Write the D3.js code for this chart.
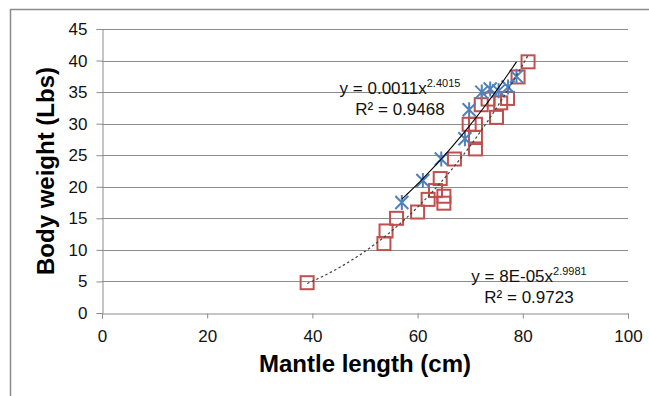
<!DOCTYPE html>
<html><head><meta charset="utf-8">
<script src="https://cdn.jsdelivr.net/npm/d3@7"></script>
<style>body{margin:0;background:#fff}svg{display:block;font-family:Arial,"Liberation Sans",sans-serif}</style>
</head><body><svg id="c" width="649" height="396"></svg>
<script>
// Series A (blue stars): mantle length (cm), body weight (Lbs)
const starX = [57, 61, 64.5, 69, 69.8, 72.2, 73.8, 75.4, 77.2, 78.8];
const starY = [17.5, 21, 24.4, 27.6, 32.2, 35.0, 35.5, 35.2, 35.8, 37.5];
// Series B (red squares)
const sqX = [39, 53.6, 54, 56, 60, 62, 63.4, 65, 65, 64.3, 67, 71, 71, 71, 69.8, 75, 72.1, 73.4, 75.8, 77.1, 79.1, 81];
const sqY = [4.8, 11, 13, 15, 16, 18, 19.4, 18.5, 17.4, 21.3, 24.4, 26, 27.8, 29.9, 29.9, 31, 33, 33.9, 33.3, 34, 37.4, 39.8];
const xTicks = [0, 20, 40, 60, 80, 100];
const yTicks = [0, 5, 10, 15, 20, 25, 30, 35, 40, 45];
const eqA = ["y = 0.0011x", "2.4015", "R² = 0.9468"];
const eqB = ["y = 8E-05x", "2.9981", "R² = 0.9723"];

const svg = d3.select("#c");
const x = d3.scaleLinear().domain([0, 100]).range([102, 628]);
const y = d3.scaleLinear().domain([0, 45]).range([313, 29]);
const grid = "#8c8c8c";

svg.append("rect").attr("x", 10.5).attr("y", 9.5).attr("width", 700).attr("height", 500)
  .attr("fill", "#fff").attr("stroke", "#8a8a8a").attr("stroke-width", 1.5);

// gridlines
svg.append("g").selectAll("line").data(yTicks.filter(d => d > 0)).join("line")
  .attr("x1", x(0)).attr("x2", x(100)).attr("y1", d => Math.round(y(d)) + 0.5).attr("y2", d => Math.round(y(d)) + 0.5)
  .attr("stroke", grid).attr("stroke-width", 1);

// axes
const yAxis = svg.append("g").attr("transform", `translate(${x(0) + 0.5},0)`)
  .call(d3.axisLeft(y).tickValues(yTicks).tickSize(6).tickPadding(9).tickFormat(d3.format("d")));
const xAxis = svg.append("g").attr("transform", `translate(0,${Math.round(y(0)) + 0.5})`)
  .call(d3.axisBottom(x).tickValues(xTicks).tickSize(5).tickPadding(11).tickFormat(d3.format("d")));
[yAxis, xAxis].forEach(a => {
  a.select(".domain").attr("stroke", grid);
  a.selectAll(".tick line").attr("stroke", grid);
  a.selectAll(".tick text").attr("font-size", 17).attr("fill", "#111").attr("font-family", "Arial, 'Liberation Sans', sans-serif");
});

// power fit by log-log least squares
function powerFit(xs, ys) {
  const lx = xs.map(Math.log), ly = ys.map(Math.log);
  const mx = d3.mean(lx), my = d3.mean(ly);
  const b = d3.sum(lx.map((v, i) => (v - mx) * (ly[i] - my))) / d3.sum(lx.map(v => (v - mx) ** 2));
  const a = Math.exp(my - b * mx);
  return v => a * Math.pow(v, b);
}
const fA = powerFit(starX, starY), fB = powerFit(sqX, sqY);
const line = d3.line().x(d => x(d[0])).y(d => y(d[1]));
function curve(f, lo, hi) { return d3.range(0, 61).map(i => { const v = lo + (hi - lo) * i / 60; return [v, f(v)]; }); }

// markers
svg.append("g").selectAll("rect").data(sqX.map((v, i) => [v, sqY[i]])).join("rect")
  .attr("x", d => x(d[0]) - 6.5).attr("y", d => y(d[1]) - 6.5).attr("width", 13).attr("height", 13)
  .attr("fill", "none").attr("stroke", "#c0504d").attr("stroke-width", 2);
const s = 6.5;
svg.append("g").selectAll("path").data(starX.map((v, i) => [v, starY[i]])).join("path")
  .attr("d", d => { const cx = x(d[0]), cy = y(d[1]);
    return `M${cx - s},${cy - s}L${cx + s},${cy + s}M${cx - s},${cy + s}L${cx + s},${cy - s}M${cx},${cy - s - 1}L${cx},${cy + s + 1}`; })
  .attr("stroke", "#4f81bd").attr("stroke-width", 2).attr("fill", "none");

// trendlines
svg.append("path").attr("d", line(curve(fB, d3.min(sqX), d3.max(sqX))))
  .attr("fill", "none").attr("stroke", "#404040").attr("stroke-width", 1.2).attr("stroke-dasharray", "2.5,2.5");
svg.append("path").attr("d", line(curve(fA, d3.min(starX), d3.max(starX))))
  .attr("fill", "none").attr("stroke", "#000").attr("stroke-width", 1.1);

// equations
function eq(lines, cx, b1, b2) {
  const t = svg.append("text").attr("x", cx).attr("y", b1).attr("text-anchor", "middle").attr("font-size", 17).attr("fill", "#111");
  t.append("tspan").text(lines[0]);
  t.append("tspan").attr("font-size", 11).attr("dy", -7).text(lines[1]);
  svg.append("text").attr("x", cx).attr("y", b2).attr("text-anchor", "middle").attr("font-size", 17).attr("fill", "#111").text(lines[2]);
}
eq(eqA, 400, 94, 115);
eq(eqB, 529, 282, 303);

// axis titles
svg.append("text").attr("x", 365).attr("y", 372).attr("text-anchor", "middle")
  .attr("font-size", 24).attr("font-weight", "bold").attr("fill", "#000").text("Mantle length (cm)");
svg.append("text").attr("transform", "translate(54,171) rotate(-90)").attr("text-anchor", "middle")
  .attr("font-size", 24).attr("font-weight", "bold").attr("fill", "#000").text("Body weight (Lbs)");
</script></body></html>
